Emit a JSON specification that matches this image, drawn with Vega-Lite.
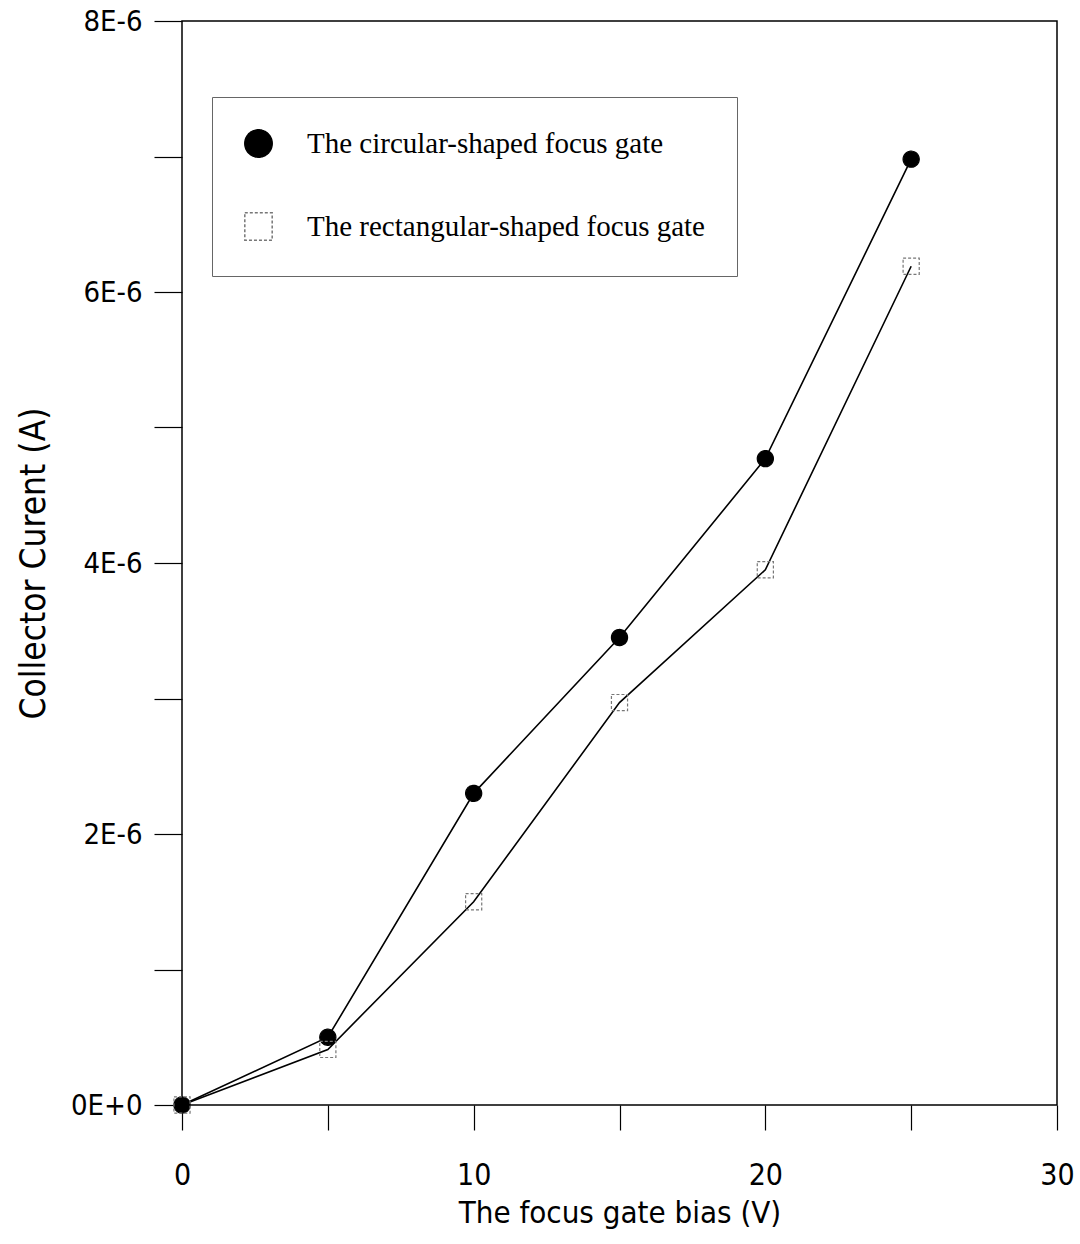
{
  "$schema": "https://vega.github.io/schema/vega-lite/v6.json",
  "width": 875,
  "height": 1084,
  "autosize": {"type": "none"},
  "padding": {"left": 182, "top": 21, "right": 23, "bottom": 139},
  "background": "white",
  "config": {
    "view": {"stroke": "black", "strokeWidth": 1.5},
    "font": "'DejaVu Sans Condensed', 'Liberation Sans Narrow', 'Liberation Sans', sans-serif"
  },
  "data": {
    "values": [
      {"bias": 0, "current": 0, "series": "The circular-shaped focus gate"},
      {"bias": 5, "current": 5.0e-7, "series": "The circular-shaped focus gate"},
      {"bias": 10, "current": 2.3e-6, "series": "The circular-shaped focus gate"},
      {"bias": 15, "current": 3.45e-6, "series": "The circular-shaped focus gate"},
      {"bias": 20, "current": 4.77e-6, "series": "The circular-shaped focus gate"},
      {"bias": 25, "current": 6.98e-6, "series": "The circular-shaped focus gate"},
      {"bias": 0, "current": 0, "series": "The rectangular-shaped focus gate"},
      {"bias": 5, "current": 4.1e-7, "series": "The rectangular-shaped focus gate"},
      {"bias": 10, "current": 1.5e-6, "series": "The rectangular-shaped focus gate"},
      {"bias": 15, "current": 2.97e-6, "series": "The rectangular-shaped focus gate"},
      {"bias": 20, "current": 3.95e-6, "series": "The rectangular-shaped focus gate"},
      {"bias": 25, "current": 6.19e-6, "series": "The rectangular-shaped focus gate"}
    ]
  },
  "encoding": {
    "x": {
      "field": "bias", "type": "quantitative",
      "scale": {"domain": [0, 30], "nice": false, "zero": false},
      "axis": {
        "title": "The focus gate bias (V)",
        "titleFont": "'DejaVu Sans Condensed', 'Liberation Sans Narrow', 'Liberation Sans', sans-serif", "titleFontSize": 31, "titleFontWeight": "normal", "titleColor": "black",
        "titlePadding": 8,
        "values": [0, 5, 10, 15, 20, 25, 30],
        "labelExpr": "datum.value % 10 == 0 ? datum.label : ''",
        "labelFont": "'DejaVu Sans Condensed', 'Liberation Sans Narrow', 'Liberation Sans', sans-serif", "labelFontSize": 30, "labelColor": "black",
        "labelPadding": 30, "labelFlush": false,
        "tickSize": 25, "tickColor": "black", "tickWidth": 1.2,
        "domain": false, "grid": false
      }
    },
    "y": {
      "field": "current", "type": "quantitative",
      "scale": {"domain": [0, 8e-6], "nice": false},
      "axis": {
        "title": "Collector Curent (A)",
        "titleFont": "'DejaVu Sans Condensed', 'Liberation Sans Narrow', 'Liberation Sans', sans-serif", "titleFontSize": 35, "titleFontWeight": "normal", "titleColor": "black",
        "titlePadding": 19,
        "values": [0, 1e-6, 2e-6, 3e-6, 4e-6, 5e-6, 6e-6, 7e-6, 8e-6],
        "labelExpr": "datum.value == 0 ? '0E+0' : (round(datum.value * 1e6) % 2 == 0 ? round(datum.value * 1e6) + 'E-6' : '')",
        "labelFont": "'DejaVu Sans Condensed', 'Liberation Sans Narrow', 'Liberation Sans', sans-serif", "labelFontSize": 29, "labelColor": "black",
        "labelPadding": 12, "labelFlush": false,
        "tickSize": 28, "tickColor": "black", "tickWidth": 1.2,
        "domain": false, "grid": false
      }
    }
  },
  "layer": [
    {
      "mark": {"type": "line", "color": "black", "strokeWidth": 1.6},
      "encoding": {"detail": {"field": "series"}}
    },
    {
      "mark": {"type": "point", "size": 260, "strokeWidth": 1.2, "opacity": 1, "clip": false},
      "encoding": {
        "shape": {
          "field": "series", "type": "nominal",
          "scale": {"range": ["circle", "square"]},
          "legend": {
            "title": null,
            "orient": "none", "legendX": 30, "legendY": 76,
            "fillColor": "white", "strokeColor": "#666",
            "padding": 32, "rowPadding": 48,
            "labelFont": "Liberation Serif", "labelFontSize": 29, "labelColor": "black",
            "labelOffset": 34, "labelLimit": 600,
            "symbolSize": 750,
            "encode": {
              "symbols": {"update": {"size": {"value": 750}}},
              "legend": {"update": {"strokeDash": {"value": [6, 3]}}}
            }
          }
        },
        "fill": {
          "field": "series", "type": "nominal",
          "scale": {"range": ["black", "transparent"]}
        },
        "stroke": {
          "field": "series", "type": "nominal",
          "scale": {"range": ["black", "#777"]}
        },
        "strokeDash": {
          "field": "series", "type": "nominal",
          "scale": {"range": [[1, 0], [3, 2]]}
        }
      }
    }
  ]
}
